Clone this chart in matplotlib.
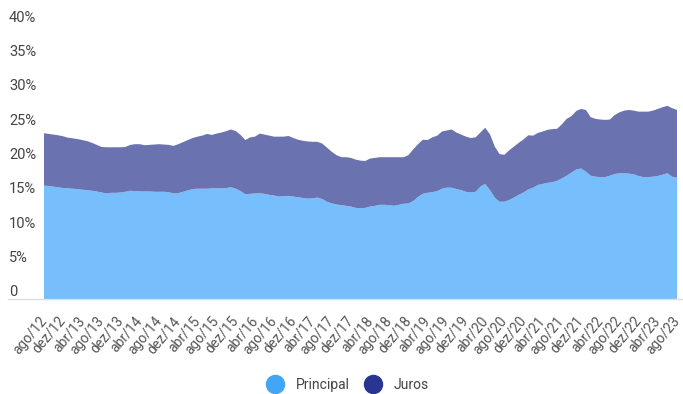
import matplotlib
matplotlib.use('Agg')
import matplotlib.pyplot as plt
from matplotlib.lines import Line2D
import numpy as np

plt.rcParams['font.family'] = ['Roboto', 'DejaVu Sans']

# comprometimento de renda (% a.a.), mensal ago/12 .. ago/23
principal = [
    16.55, 16.5, 16.4, 16.3, 16.2, 16.15, 16.1, 16.05, 15.95, 15.9,
    15.8, 15.7, 15.55, 15.4, 15.5, 15.5, 15.55, 15.65, 15.8, 15.75,
    15.7, 15.7, 15.7, 15.65, 15.65, 15.65, 15.6, 15.4, 15.45, 15.65,
    15.85, 16.05, 16.1, 16.1, 16.1, 16.15, 16.15, 16.15, 16.2, 16.3,
    16.1, 15.75, 15.3, 15.35, 15.4, 15.45, 15.35, 15.2, 15.1, 14.95,
    15.0, 15.05, 14.95, 14.85, 14.75, 14.65, 14.7, 14.8, 14.6, 14.2,
    13.95, 13.8, 13.7, 13.6, 13.5, 13.3, 13.25, 13.3, 13.5, 13.6,
    13.75, 13.75, 13.7, 13.6, 13.75, 13.9, 13.95, 14.3, 14.9, 15.35,
    15.5, 15.6, 15.75, 16.1, 16.25, 16.25, 16.05, 15.9, 15.65, 15.55,
    15.65, 16.4, 16.8, 15.9, 14.8, 14.2, 14.2, 14.45, 14.8, 15.2,
    15.55, 16.0, 16.25, 16.65, 16.8, 16.95, 17.05, 17.25, 17.6, 18.0,
    18.45, 18.9, 19.05, 18.6, 18.0, 17.85, 17.8, 17.8, 18.0, 18.25,
    18.35, 18.35, 18.3, 18.2, 17.95, 17.8, 17.8, 17.85, 17.95, 18.15,
    18.35, 17.85, 17.7,
]
juros = [
    7.65, 7.6, 7.6, 7.6, 7.55, 7.4, 7.35, 7.3, 7.25, 7.15,
    7.0, 6.8, 6.65, 6.75, 6.65, 6.65, 6.6, 6.55, 6.7, 6.85,
    6.9, 6.75, 6.8, 6.9, 6.95, 6.9, 6.9, 6.95, 7.15, 7.25,
    7.35, 7.45, 7.6, 7.75, 8.0, 7.8, 8.0, 8.15, 8.3, 8.45,
    8.4, 8.2, 7.9, 8.25, 8.3, 8.7, 8.65, 8.65, 8.6, 8.75,
    8.7, 8.75, 8.55, 8.4, 8.35, 8.35, 8.25, 8.15, 8.1, 7.9,
    7.55, 7.2, 7.0, 7.1, 7.1, 7.05, 6.95, 6.85, 7.0, 7.0,
    6.95, 6.95, 7.0, 7.1, 6.95, 6.8, 7.05, 7.55, 7.7, 7.9,
    7.7, 8.0, 8.1, 8.35, 8.35, 8.5, 8.25, 8.1, 8.05, 7.95,
    7.95, 7.9, 8.2, 8.15, 7.45, 6.95, 6.85, 7.25, 7.45, 7.6,
    7.75, 7.9, 7.6, 7.6, 7.65, 7.75, 7.75, 7.6, 7.9, 8.3,
    8.25, 8.55, 8.7, 9.0, 8.55, 8.45, 8.4, 8.35, 8.2, 8.6,
    8.9, 9.15, 9.3, 9.3, 9.4, 9.55, 9.55, 9.65, 9.8, 9.85,
    9.85, 10.0, 9.9,
]
tick_labels = [
    'ago/12', 'dez/12', 'abr/13', 'ago/13', 'dez/13', 'abr/14', 'ago/14', 'dez/14',
    'abr/15', 'ago/15', 'dez/15', 'abr/16', 'ago/16', 'dez/16', 'abr/17', 'ago/17',
    'dez/17', 'abr/18', 'ago/18', 'dez/18', 'abr/19', 'ago/19', 'dez/19', 'abr/20',
    'ago/20', 'dez/20', 'abr/21', 'ago/21', 'dez/21', 'abr/22', 'ago/22', 'dez/22',
    'abr/23', 'ago/23',
]
y_ticks = [0, 5, 10, 15, 20, 25, 30, 35, 40]
y_labels = ['0', '5%', '10%', '15%', '20%', '25%', '30%', '35%', '40%']

W, H = 683, 394
fig = plt.figure(figsize=(W / 100, H / 100), dpi=100)
ax = fig.add_axes([44 / W, 95 / H, 633 / W, 274 / H])

x = np.arange(len(principal))
ax.stackplot(x, principal, juros, colors=['#76BEFC', '#6A73AF'], linewidth=0)

ax.set_xlim(0, len(principal) - 1)
ax.set_ylim(0, 40)

ax.set_yticks(y_ticks)
ax.set_yticklabels(y_labels, ha='left', va='bottom', fontsize=10.5, color='#444444')
ax.tick_params(axis='y', length=0, pad=35 * 0.72)

ax.set_xticks(x[::4])
ax.tick_params(axis='x', length=0, pad=14)
ax.set_xticklabels(tick_labels, rotation=50, ha='right', va='center',
                   rotation_mode='anchor', fontsize=10, color='#555555')

for s in ax.spines.values():
    s.set_visible(False)

# linha de base cinza
fig.add_artist(Line2D([8 / W, 1], [95 / H, 95 / H], color='#dddddd', lw=1))

handles = [
    Line2D([], [], marker='o', ls='', markersize=13, color='#42A5F5', label='Principal'),
    Line2D([], [], marker='o', ls='', markersize=13, color='#283593', label='Juros'),
]
fig.legend(handles=handles, loc='center', bbox_to_anchor=(0.505, 9 / H), ncol=2,
           frameon=False, fontsize=10, handletextpad=0.5, columnspacing=0.7,
           labelcolor='#444444')

fig.savefig('out.png', dpi=100)
